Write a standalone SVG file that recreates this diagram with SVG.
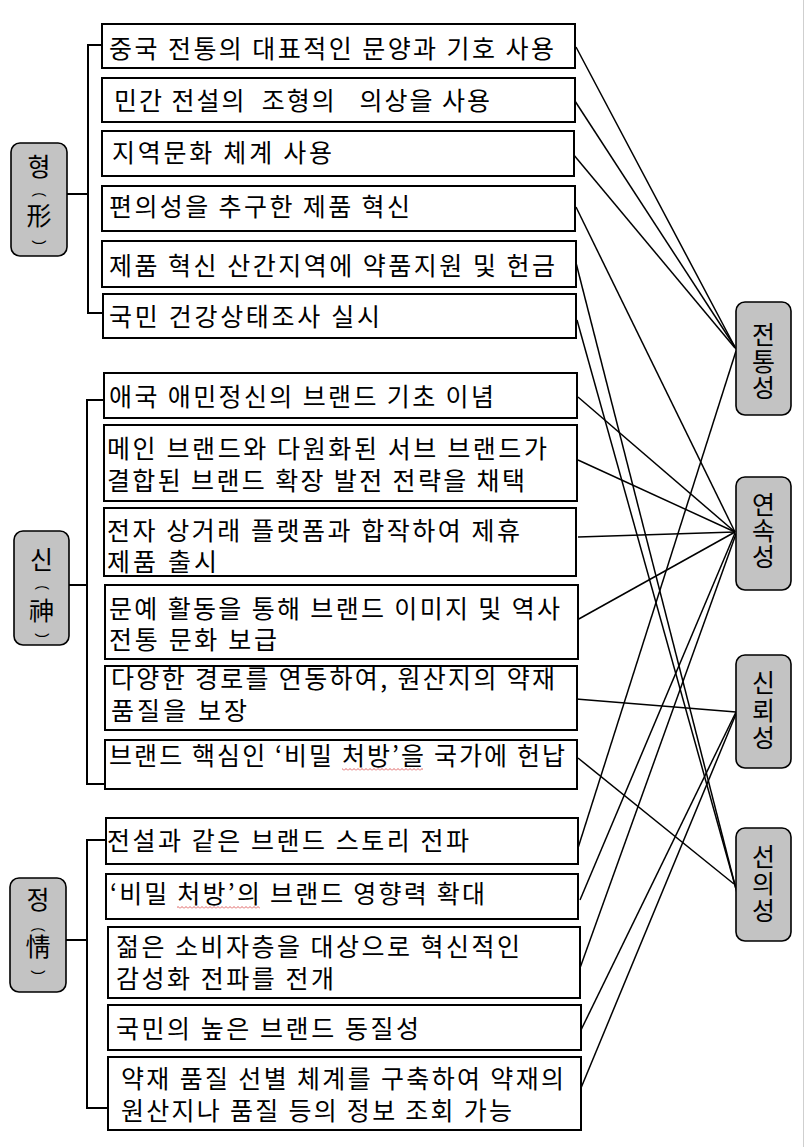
<svg xmlns="http://www.w3.org/2000/svg" width="805" height="1147" viewBox="0 0 805 1147">
<style>
.box{fill:#fff;stroke:#000;stroke-width:2}
.node{fill:#c3c3c3;stroke:#000;stroke-width:1.6}
.t{font-family:"Noto Sans CJK KR","Noto Sans",sans-serif;font-size:25px;fill:#000;white-space:pre}
.v{font-family:"Noto Sans CJK KR","Noto Sans",sans-serif;font-size:25px;fill:#000;text-anchor:middle}
.p{font-family:"Liberation Sans",sans-serif;font-size:14px;fill:#000;text-anchor:middle}
.br{fill:none;stroke:#000;stroke-width:2}
.c line{stroke:#000;stroke-width:1.5}
</style>
<defs>
<pattern id="sq" width="4" height="3" patternUnits="userSpaceOnUse"><path d="M0,2.5 L2,0.5 L4,2.5" fill="none" stroke="#d63a3a" stroke-width="0.8"/></pattern>
</defs>
<rect x="0" y="0" width="805" height="1147" fill="#fff"/>
<line x1="803.5" y1="0" x2="803.5" y2="1147" stroke="#cfcfcf" stroke-width="1"/>

<g id="brackets">
<path class="br" d="M102,45 H88 V313 H103 M67,194 H88"/>
<path class="br" d="M104,400 H87 V784 H105 M69,585 H87"/>
<path class="br" d="M106,840 H87 V1108 H107 M66,940 H87"/>
</g>

<g id="connectors" class="c">
<line x1="576" y1="47" x2="736" y2="349"/>
<line x1="573" y1="98" x2="735" y2="347"/>
<line x1="573" y1="154" x2="735" y2="348"/>
<line x1="578" y1="848" x2="736" y2="351"/>
<line x1="576" y1="207" x2="735" y2="532"/>
<line x1="578" y1="397" x2="735" y2="532"/>
<line x1="578" y1="460" x2="735" y2="532"/>
<line x1="578" y1="537" x2="735" y2="532"/>
<line x1="577" y1="620" x2="735" y2="532"/>
<line x1="580" y1="900" x2="735" y2="533"/>
<line x1="580" y1="968" x2="736" y2="534"/>
<line x1="576" y1="699" x2="736" y2="712"/>
<line x1="581" y1="1030" x2="736" y2="712"/>
<line x1="581" y1="1088" x2="736" y2="714"/>
<line x1="574" y1="255" x2="737" y2="893"/>
<line x1="577" y1="320" x2="736" y2="889"/>
<line x1="578" y1="758" x2="734" y2="884"/>
</g>

<g id="n-hyeong">
<rect class="node" x="11" y="143" width="56" height="113" rx="9"/>
<text class="v" x="39" y="176">형</text>
<text class="p" transform="translate(39,194.5) rotate(90) translate(0,3.6)">(</text>
<text class="v" x="39" y="225">形</text>
<text class="p" transform="translate(39,242.5) rotate(90) translate(0,3.6)">)</text>
</g>
<g id="n-sin">
<rect class="node" x="14" y="531" width="55" height="114" rx="9"/>
<text class="v" x="41.5" y="569">신</text>
<text class="p" transform="translate(41.5,587.5) rotate(90) translate(0,3.6)">(</text>
<text class="v" x="41.5" y="620">神</text>
<text class="p" transform="translate(41.5,635.5) rotate(90) translate(0,3.6)">)</text>
</g>
<g id="n-jeong">
<rect class="node" x="10" y="878" width="56" height="114" rx="9"/>
<text class="v" x="38" y="909">정</text>
<text class="p" transform="translate(38,929.5) rotate(90) translate(0,3.6)">(</text>
<text class="v" x="38" y="956">情</text>
<text class="p" transform="translate(38,972.5) rotate(90) translate(0,3.6)">)</text>
</g>

<g id="n-jeontong">
<rect class="node" x="736" y="302" width="55" height="113" rx="9"/>
<text class="v" x="763.5" y="344">전</text>
<text class="v" x="763.5" y="371">통</text>
<text class="v" x="763.5" y="397">성</text>
</g>
<g id="n-yeonsok">
<rect class="node" x="736" y="477" width="55" height="113" rx="9"/>
<text class="v" x="763.5" y="514">연</text>
<text class="v" x="763.5" y="540">속</text>
<text class="v" x="763.5" y="566">성</text>
</g>
<g id="n-sinroe">
<rect class="node" x="736" y="655" width="55" height="113" rx="9"/>
<text class="v" x="763.5" y="692">신</text>
<text class="v" x="763.5" y="720">뢰</text>
<text class="v" x="763.5" y="747">성</text>
</g>
<g id="n-seonui">
<rect class="node" x="736" y="828" width="55" height="113" rx="9"/>
<text class="v" x="763.5" y="866">선</text>
<text class="v" x="763.5" y="893">의</text>
<text class="v" x="763.5" y="920">성</text>
</g>

<g id="h1"><rect class="box" x="102" y="24" width="473" height="44"/><text class="t" x="109" y="58" textLength="445">중국 전통의 대표적인 문양과 기호 사용</text></g>
<g id="h2"><rect class="box" x="102" y="78" width="473" height="44"/><text class="t" x="114" y="110" textLength="376">민간 전설의  조형의   의상을 사용</text></g>
<g id="h3"><rect class="box" x="102" y="131" width="472" height="45"/><text class="t" x="112" y="162" textLength="220">지역문화 체계 사용</text></g>
<g id="h4"><rect class="box" x="102" y="186" width="473" height="45"/><text class="t" x="109" y="216" textLength="301">편의성을 추구한 제품 혁신</text></g>
<g id="h5"><rect class="box" x="102" y="241" width="474" height="46"/><text class="t" x="109" y="275" textLength="446">제품 혁신 산간지역에 약품지원 및 헌금</text></g>
<g id="h6"><rect class="box" x="103" y="294" width="473" height="44"/><text class="t" x="109" y="326" textLength="271">국민 건강상태조사 실시</text></g>

<g id="s1"><rect class="box" x="104" y="373" width="473" height="45"/><text class="t" x="109" y="406" textLength="385">애국 애민정신의 브랜드 기초 이념</text></g>
<g id="s2"><rect class="box" x="104" y="425" width="473" height="76"/><text class="t" x="107" y="458" textLength="440">메인 브랜드와 다원화된 서브 브랜드가</text><text class="t" x="107" y="490" textLength="418">결합된 브랜드 확장 발전 전략을 채택</text></g>
<g id="s3"><rect class="box" x="104" y="508" width="472" height="68"/><text class="t" x="107" y="540" textLength="413">전자 상거래 플랫폼과 합작하여 제휴</text><text class="t" x="107" y="571" textLength="110">제품 출시</text></g>
<g id="s4"><rect class="box" x="105" y="585" width="473" height="74"/><text class="t" x="109" y="618" textLength="451">문예 활동을 통해 브랜드 이미지 및 역사</text><text class="t" x="109" y="649" textLength="168">전통 문화 보급</text></g>
<g id="s5"><rect class="box" x="105" y="666" width="472" height="64"/><text class="t" x="111" y="688" textLength="444">다양한 경로를 연동하여, 원산지의 약재</text><text class="t" x="111" y="720" textLength="136">품질을 보장</text></g>
<g id="s6"><rect class="box" x="105" y="740" width="472" height="49"/><text class="t" x="109" y="765" textLength="456">브랜드 핵심인 ‘비밀 처방’을 국가에 헌납</text><rect x="342" y="768" width="81" height="3" fill="url(#sq)"/></g>

<g id="j1"><rect class="box" x="106" y="818" width="472" height="46"/><text class="t" x="107" y="850" textLength="362">전설과 같은 브랜드 스토리 전파</text></g>
<g id="j2"><rect class="box" x="106" y="874" width="472" height="45"/><text class="t" x="110" y="903" textLength="375">‘비밀 처방’의 브랜드 영향력 확대</text><rect x="177" y="906" width="83" height="3" fill="url(#sq)"/></g>
<g id="j3"><rect class="box" x="108" y="927" width="472" height="71"/><text class="t" x="116" y="956" textLength="404">젊은 소비자층을 대상으로 혁신적인</text><text class="t" x="116" y="988" textLength="218">감성화 전파를 전개</text></g>
<g id="j4"><rect class="box" x="108" y="1005" width="473" height="45"/><text class="t" x="116" y="1038" textLength="303">국민의 높은 브랜드 동질성</text></g>
<g id="j5"><rect class="box" x="108" y="1057" width="473" height="73"/><text class="t" x="121" y="1088" textLength="443">약재 품질 선별 체계를 구축하여 약재의</text><text class="t" x="121" y="1120" textLength="391">원산지나 품질 등의 정보 조회 가능</text></g>
</svg>
